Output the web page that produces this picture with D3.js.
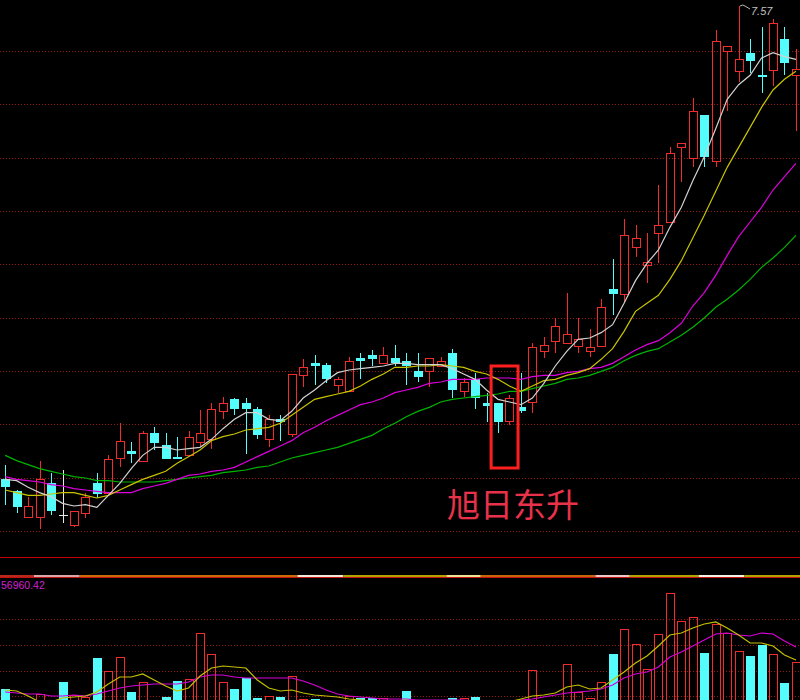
<!DOCTYPE html>
<html><head><meta charset="utf-8">
<script src="https://cdn.jsdelivr.net/npm/d3@7"></script>
<style>html,body{margin:0;padding:0;background:#000;overflow:hidden}</style>
</head><body>
<svg id="chart" width="800" height="700"></svg>
<script>
// ---- data ----
const open  = [4.02,3.93,3.74,3.74,3.99,3.75,3.68,3.77,3.99,3.92, 4.18,4.23,4.16,4.37,4.28,4.19,4.20,4.30,4.32,4.53, 4.62,4.59,4.55,4.32,4.47,4.36,4.80,4.89,4.88,4.73, 4.68,4.93,4.95,4.89,4.93,4.91,4.83,4.83,4.87,4.97, 4.68,4.77,4.59,4.59,4.46,4.56,4.60,4.98,5.06,5.04, 5.02,4.98,5.02,5.45,5.41,5.76,5.63,5.87,5.95,6.51, 6.43,6.75,6.41,7.23,7.08,7.22,7.05,7.09,7.32,7.05];
const close = [3.96,3.81,3.82,4.02,3.78,3.75,3.78,3.89,3.91,4.17, 4.31,4.21,4.37,4.29,4.17,4.17,4.34,4.37,4.55,4.59, 4.55,4.55,4.35,4.47,4.45,4.81,4.86,4.87,4.77,4.77, 4.91,4.91,4.92,4.95,4.89,4.87,4.79,4.93,4.91,4.69, 4.75,4.63,4.57,4.45,4.63,4.53,5.01,5.03,5.17,5.11, 5.07,5.01,5.31,5.41,5.85,5.83,5.65,5.93,6.47,6.54, 6.78,6.44,7.31,7.27,7.17,7.16,7.04,7.44,7.14,7.10];
const high  = [4.13,3.94,3.89,4.16,4.07,4.09,3.78,3.92,4.07,4.20, 4.44,4.30,4.38,4.41,4.37,4.34,4.38,4.54,4.59,4.64, 4.63,4.63,4.56,4.50,4.50,4.81,4.92,4.95,4.89,4.79, 4.94,4.97,4.99,5.01,5.03,4.97,4.97,4.93,4.94,5.00, 4.78,4.82,4.67,4.59,4.65,4.82,5.04,5.09,5.23,5.42, 5.23,5.15,5.37,5.67,5.97,5.93,5.87,6.23,6.51,6.54, 6.88,6.75,7.39,7.27,7.57,7.32,7.41,7.47,7.41,7.25];
const low   = [3.83,3.77,3.74,3.65,3.75,3.69,3.66,3.73,3.88,3.91, 4.11,4.14,4.16,4.24,4.17,4.17,4.20,4.27,4.25,4.47, 4.50,4.21,4.32,4.26,4.31,4.34,4.71,4.73,4.74,4.67, 4.68,4.77,4.87,4.89,4.87,4.73,4.75,4.71,4.87,4.63, 4.64,4.55,4.45,4.37,4.43,4.52,4.52,4.93,4.97,5.04, 4.97,4.94,5.02,5.25,5.35,5.69,5.49,5.64,5.95,6.25, 6.36,6.36,6.36,6.78,7.00,7.07,6.92,6.97,7.05,6.63];
const volume = [33000,16000,14000,28000,18000,40000,27000,25000,64000,51000, 65000,30000,40000,19000,25000,41000,43000,89000,68000,40000, 33000,44000,24000,26000,25000,46000,23000,23000,20000,15000, 26000,24000,24000,24000,20000,31000,16000,18000,14000,24000, 24000,25000,17000,20000,19000,15000,52000,21000,20000,58000, 30000,24000,40000,68000,93000,78000,53000,88000,129000,101000, 105000,69000,98000,89000,71000,66000,77000,68000,39000,60000];
const ma5  = [4.02,4.01,3.96,3.92,3.89,3.84,3.82,3.83,3.81,3.90, 3.99,4.10,4.20,4.26,4.26,4.24,4.25,4.26,4.32,4.40, 4.47,4.52,4.52,4.47,4.46,4.53,4.63,4.69,4.76,4.82, 4.84,4.85,4.86,4.87,4.89,4.89,4.88,4.88,4.88,4.85, 4.81,4.77,4.69,4.62,4.60,4.58,4.63,4.74,4.87,4.98, 5.07,5.08,5.12,5.18,5.34,5.51,5.64,5.74,5.91,6.06, 6.26,6.44,6.65,6.87,6.98,7.05,7.18,7.22,7.19,7.17];
const ma10 = [3.94,3.92,3.90,3.90,3.91,3.92,3.92,3.90,3.88,3.90, 3.94,3.98,4.02,4.05,4.08,4.14,4.19,4.24,4.31,4.34, 4.36,4.39,4.40,4.41,4.44,4.50,4.56,4.62,4.64,4.66, 4.68,4.72,4.77,4.81,4.86,4.86,4.87,4.87,4.88,4.87, 4.86,4.83,4.81,4.77,4.72,4.68,4.72,4.76,4.77,4.80, 4.82,4.85,4.92,5.00,5.13,5.28,5.34,5.40,5.52,5.66, 5.83,6.00,6.18,6.36,6.51,6.66,6.81,6.94,7.02,7.08];
const ma20 = [4.04,4.02,4.01,4.00,3.98,3.97,3.95,3.94,3.93,3.92, 3.92,3.92,3.95,3.97,3.99,4.02,4.05,4.06,4.08,4.09, 4.11,4.15,4.19,4.23,4.27,4.31,4.37,4.41,4.46,4.50, 4.54,4.58,4.60,4.63,4.67,4.69,4.71,4.74,4.75,4.77, 4.77,4.77,4.78,4.78,4.78,4.77,4.79,4.80,4.80,4.82, 4.83,4.85,4.86,4.89,4.94,4.99,5.03,5.06,5.12,5.19, 5.32,5.42,5.55,5.70,5.84,5.95,6.06,6.19,6.29,6.39];
const ma60 = [4.20,4.16,4.13,4.10,4.08,4.06,4.04,4.03,4.01,4.01, 4.00,4.00,4.00,4.00,4.01,4.02,4.03,4.04,4.05,4.07, 4.08,4.09,4.11,4.12,4.15,4.18,4.20,4.22,4.24,4.26, 4.29,4.32,4.35,4.40,4.44,4.49,4.53,4.56,4.60,4.62, 4.63,4.64,4.65,4.66,4.68,4.68,4.70,4.72,4.74,4.77, 4.78,4.80,4.83,4.86,4.91,4.95,4.98,5.00,5.05,5.10, 5.16,5.23,5.31,5.37,5.44,5.52,5.61,5.68,5.76,5.85];
const vma5  = [32000,31000,26000,20000,20000,24000,25000,26000,30000,38000, 45000,45000,48000,42000,36000,31000,34000,46000,54000,56000, 55000,54000,42000,34000,31000,32000,29000,27000,26000,25000, 23000,22000,21000,21000,21000,22000,20000,19000,19000,20000, 20000,20000,20000,19000,20000,23000,26000,27000,29000,35000, 37000,33000,34000,42000,50000,59000,66000,76000,87000,89000, 94000,98000,100000,94000,87000,79000,79000,76000,67000,62000];
const vma10 = [30000,29000,28000,28000,26000,26000,27000,26000,28000,31000, 34000,36000,37000,38000,38000,38000,40000,45000,47000,47000, 45000,44000,44000,44000,44000,44000,41000,37000,32000,28000, 26000,25000,24000,23000,23000,23000,22000,22000,22000,22000, 22000,21000,21000,21000,21000,22000,23000,25000,27000,29000, 30000,31000,33000,37000,44000,48000,50000,55000,65000,70000, 76000,82000,88000,89000,87000,86000,89000,88000,81000,75000];
const priceGrid = [3.6325,4.0325,4.4325,4.8325,5.2325,5.6325,6.0325,6.4325,6.8325,7.2325];
const volGrid = [25700,51400,77100,102800];
const stripBreaks = [-0.5,2.5,6.5,25.5,29.5,38.5,41.5,51.5,54.5,60.5,64.5,69.5];
const stripColors = ['#b8281c','#d8a8a8','#cc6a08','#f2ead6','#b4a400','#f0e294','#c8640a','#eac8c8','#b4a400','#f4f2e4','#b4a400'];
const highLabel = "7.57";
const volLabel = "56960.42";
const title = "旭日东升";
const highlightBox = {from:42.4, to:44.75, top:4.87, bottom:4.105};

// ---- drawing ----
const W = 800, H = 700;
const svg = d3.select('#chart');
svg.append('rect').attr('width',W).attr('height',H).attr('fill','#000');

const n = close.length;
const x = d3.scaleLinear().domain([0, n-1]).range([5.2, 5.2 + 11.46*(n-1)]);
const y = d3.scaleLinear().domain([3.6325, 7.57]).range([531, 6]);
const yv = d3.scaleLinear().domain([0, 129000]).range([722, 593]);

const RED = '#f02c2c', CYAN = '#54fcfc';
const GRID = '#961616';

// grids
svg.append('g').selectAll('line').data(priceGrid).join('line')
  .attr('x1',0).attr('x2',W)
  .attr('y1',d=>Math.round(y(d))+0.5).attr('y2',d=>Math.round(y(d))+0.5)
  .attr('stroke',GRID).attr('stroke-dasharray','1,2');
svg.append('g').selectAll('line').data(volGrid).join('line')
  .attr('x1',0).attr('x2',W)
  .attr('y1',d=>Math.round(yv(d))+0.5).attr('y2',d=>Math.round(yv(d))+0.5)
  .attr('stroke',GRID).attr('stroke-dasharray','1,2');

// separators
svg.append('line').attr('x1',0).attr('x2',W).attr('y1',557.5).attr('y2',557.5)
  .attr('stroke','#c80000').attr('stroke-width',1);
const strip = svg.append('g');
for (let k=0;k<stripColors.length;k++){
  const a = Math.max(0, x(stripBreaks[k])), b = Math.min(W, x(stripBreaks[k+1]));
  strip.append('rect').attr('x',a).attr('y',575).attr('width',b-a).attr('height',2)
    .attr('fill',stripColors[k]);
}
svg.append('line').attr('x1',0).attr('x2',W).attr('y1',577.5).attr('y2',577.5)
  .attr('stroke','#c01010').attr('stroke-width',1);

// candles
const cg = svg.append('g').attr('shape-rendering','crispEdges');
for (let i=0;i<n;i++){
  const cx = Math.round(x(i));
  const o = Math.round(y(open[i])), c = Math.round(y(close[i]));
  const h = Math.round(y(high[i])), l = Math.round(y(low[i]));
  if (close[i] > open[i]) {
    cg.append('rect').attr('x',cx-4+0.5).attr('y',c+0.5).attr('width',8).attr('height',Math.max(1,o-c))
      .attr('fill','none').attr('stroke',RED);
    if (h < c) cg.append('line').attr('x1',cx+0.5).attr('x2',cx+0.5).attr('y1',h).attr('y2',c).attr('stroke',RED);
    if (l > o) cg.append('line').attr('x1',cx+0.5).attr('x2',cx+0.5).attr('y1',o+1).attr('y2',l).attr('stroke',RED);
  } else if (close[i] < open[i]) {
    cg.append('line').attr('x1',cx+0.5).attr('x2',cx+0.5).attr('y1',h).attr('y2',l).attr('stroke',CYAN);
    cg.append('rect').attr('x',cx-4).attr('y',o).attr('width',9).attr('height',Math.max(2,c-o))
      .attr('fill',CYAN);
  } else {
    cg.append('line').attr('x1',cx+0.5).attr('x2',cx+0.5).attr('y1',h).attr('y2',l).attr('stroke','#e8e8e8');
    cg.append('line').attr('x1',cx-4).attr('x2',cx+5).attr('y1',o+0.5).attr('y2',o+0.5).attr('stroke','#e8e8e8');
  }
}

// moving averages
const line = d3.line().x((d,i)=>x(i)).y(d=>y(d));
[[ma60,'#00b400'],[ma20,'#dc00dc'],[ma10,'#c8c400'],[ma5,'#d2d2d2']].forEach(([arr,col])=>{
  svg.append('path').datum(arr).attr('d',line).attr('fill','none').attr('stroke',col).attr('stroke-width',1.2);
});

// highest price label
const hx = Math.round(x(64)), hy = y(high[64]);
svg.append('path').attr('d',`M${hx+1},${hy} q3,-2 5,0 L${hx+11},${hy+3}`)
  .attr('fill','none').attr('stroke','#b8b8b8').attr('stroke-width',1);
svg.append('text').attr('x',hx+12).attr('y',hy+9).text(highLabel)
  .attr('fill','#c0c0c0').attr('font-family','Liberation Sans, Arial, sans-serif').attr('font-size',11)
  .attr('font-style','italic');

// highlight box and title
svg.append('rect')
  .attr('x',x(highlightBox.from)).attr('y',y(highlightBox.top))
  .attr('width',x(highlightBox.to)-x(highlightBox.from))
  .attr('height',y(highlightBox.bottom)-y(highlightBox.top))
  .attr('fill','none').attr('stroke','#ff1e1e').attr('stroke-width',3);
svg.append('text').attr('x',513).attr('y',517).attr('text-anchor','middle')
  .attr('font-family','Noto Sans CJK SC, sans-serif').attr('font-size',33)
  .attr('fill','#e8324a').text(title);

// volume
const vg = svg.append('g').attr('shape-rendering','crispEdges');
for (let i=0;i<n;i++){
  const cx = Math.round(x(i));
  const top = Math.round(yv(volume[i]));
  if (close[i] > open[i]) {
    vg.append('rect').attr('x',cx-4+0.5).attr('y',top+0.5).attr('width',8).attr('height',730-top)
      .attr('fill','none').attr('stroke',RED);
  } else {
    vg.append('rect').attr('x',cx-4).attr('y',top).attr('width',9).attr('height',730-top).attr('fill',CYAN);
  }
}
const vline = d3.line().x((d,i)=>x(i)).y(d=>yv(d));
[[vma10,'#d800d8'],[vma5,'#c4c000']].forEach(([arr,col])=>{
  svg.append('path').datum(arr).attr('d',vline).attr('fill','none').attr('stroke',col).attr('stroke-width',1.2);
});
svg.append('text').attr('x',1).attr('y',589).attr('text-anchor','start').text(volLabel)
  .attr('fill','#d020d0').attr('font-family','Liberation Sans, Arial, sans-serif').attr('font-size',10.5);
</script>
</body></html>
